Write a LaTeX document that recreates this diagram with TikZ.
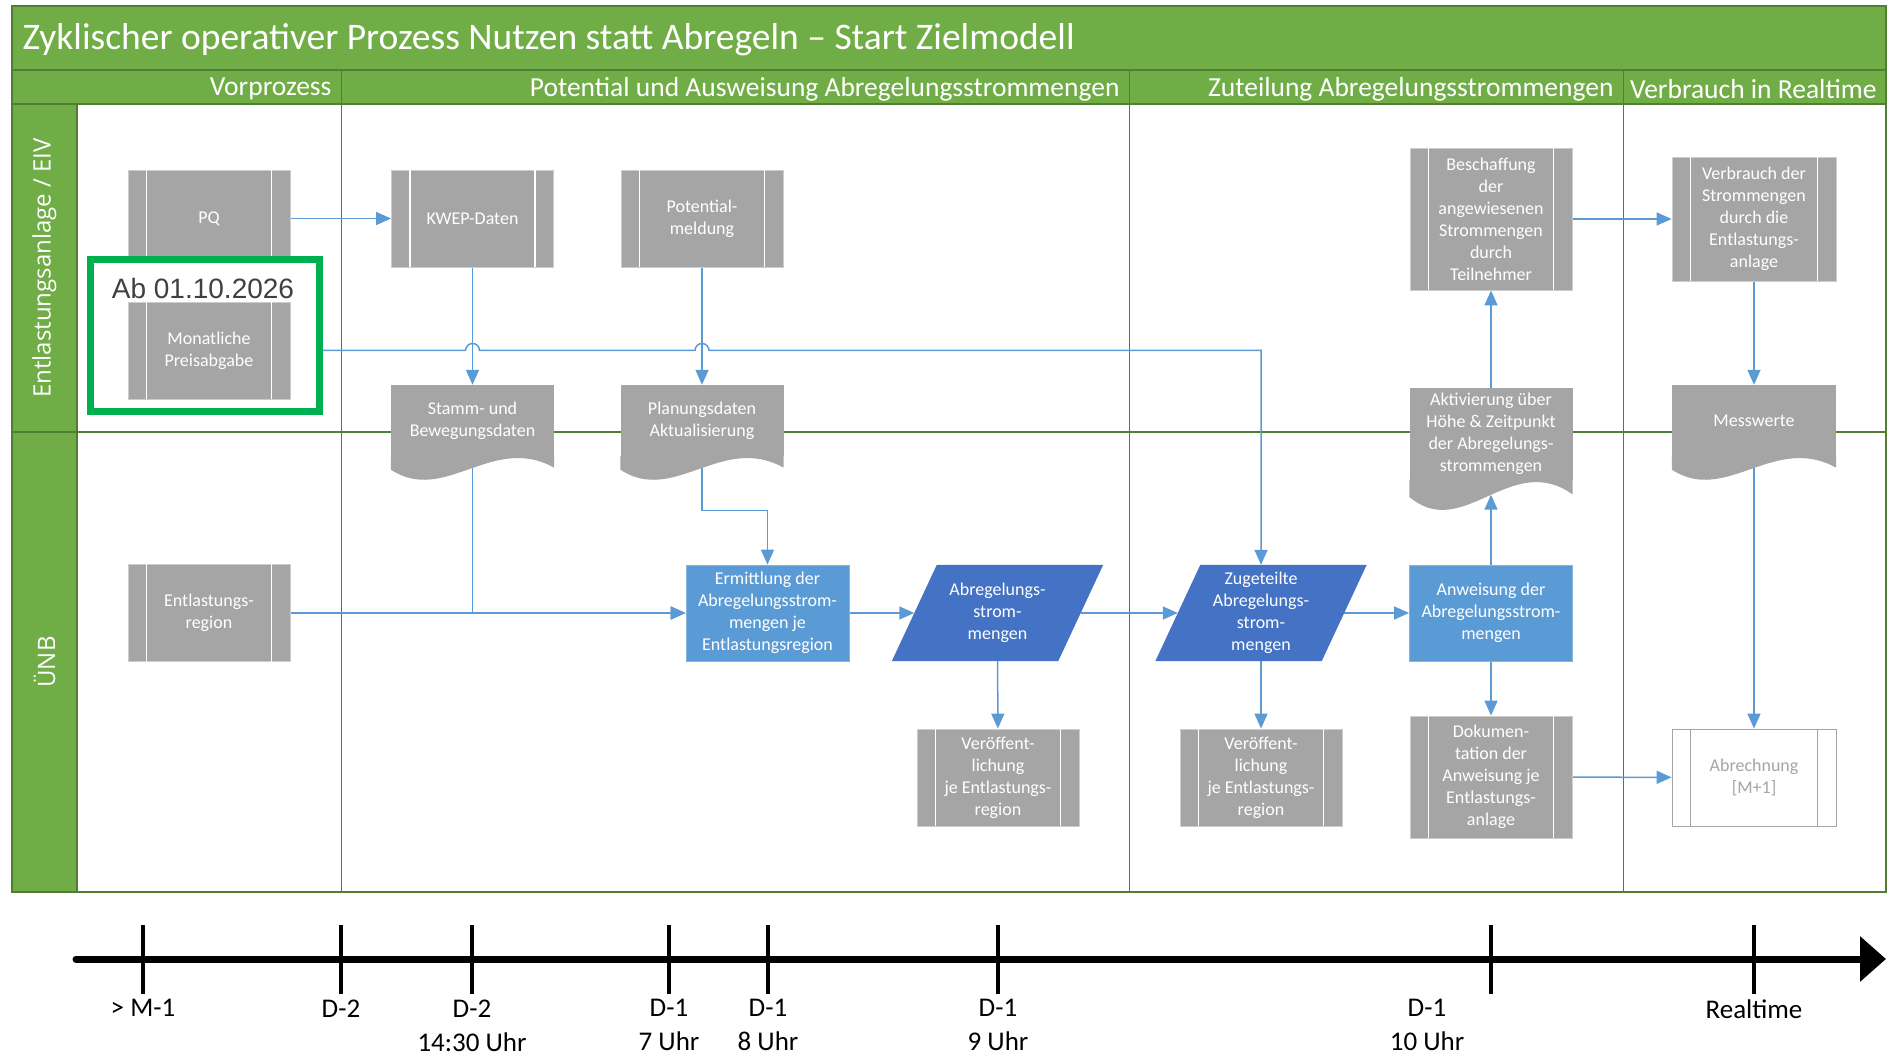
\documentclass[tikz,border=0pt]{standalone}
\usepackage{fontspec}
\setmainfont{Carlito}
\newfontfamily\datefont{Liberation Sans}
\newfontfamily\lanefont{Open Sans}
\usetikzlibrary{positioning,calc,arrows.meta}

\definecolor{bandgreen}{HTML}{70AD47}
\definecolor{edgegreen}{HTML}{507E32}
\definecolor{boxgray}{HTML}{A5A5A5}
\definecolor{procblue}{HTML}{5B9BD5}
\definecolor{datablue}{HTML}{4472C4}
\definecolor{markgreen}{HTML}{00B050}
\definecolor{dategray}{HTML}{404040}

\pgfdeclarelayer{lanes}
\pgfdeclarelayer{wires}
\pgfdeclarelayer{fills}
\pgfsetlayers{lanes,wires,fills,main}

% Dokument-Form: Welle unter dem Rechteck
\newcommand{\docwave}[3]{%
  \fill[boxgray] (#1.south west) -- ++(0,0.14*#3)
    .. controls +(0.33*#2,0.37*#3) and +(-0.38*#2,-0.36*#3) .. ($(#1.south east)+(0,0.12*#3)$)
    -- (#1.south east) -- cycle;}
% Daten-Form: Parallelogramm
\newcommand{\dataslant}[1]{%
  \fill[datablue] ($(#1.south west)+(-22.5,0)$) -- ($(#1.south east)+(-22.5,0)$)
    -- ($(#1.north east)+(22.5,0)$) -- ($(#1.north west)+(22.5,0)$) -- cycle;}

\tikzset{
  sublines/.style={append after command={
    \pgfextra{\let\subnode\tikzlastnode}
    ([xshift=19pt]\subnode.north west) edge[draw=#1, line width=1.6pt] ([xshift=19pt]\subnode.south west)
    ([xshift=-19pt]\subnode.north east) edge[draw=#1, line width=1.6pt] ([xshift=-19pt]\subnode.south east)}},
  subproc/.style={rectangle, fill=boxgray, draw=boxgray!55!white, line width=0.8pt, text=white,
    align=center, inner sep=0pt, minimum width=162pt, minimum height=97pt, sublines=white},
  procnode/.style={rectangle, fill=procblue, draw=procblue!75!white, line width=0.8pt, text=white,
    align=center, inner sep=0pt, minimum width=163pt, minimum height=96pt},
  datanode/.style={rectangle, text=white, align=center, inner sep=0pt,
    minimum width=166pt, minimum height=96pt},
  docnode/.style={rectangle, fill=boxgray, text=white, align=center, inner sep=0pt,
    minimum width=163pt},
  flow/.style={draw=procblue, line width=1.5pt, -{Triangle[length=15pt,width=13pt]}},
  lane/.style={draw=edgegreen, line width=1.3pt},
  tick/.style={line width=3.5pt},
  titletext/.style={text=white, anchor=west, font=\fontsize{37.5}{44}\selectfont},
  headtext/.style={text=white, anchor=east, font=\fontsize{27.5}{32}\selectfont},
  lanetext/.style={text=white, rotate=90, font=\lanefont\fontsize{24}{28}\selectfont},
  timetext/.style={anchor=north, align=center, font=\fontsize{27}{34}\selectfont}
}

\begin{document}
\begin{tikzpicture}[x=1pt, y=-1pt, font=\fontsize{18}{22}\selectfont]
\useasboundingbox (0,0) rectangle (1896,1056);

% Bahnen und Spalten
\begin{pgfonlayer}{lanes}
\fill[bandgreen] (12,6) rectangle (1886,104);
\fill[bandgreen] (12,104) rectangle (77,892);
\draw[lane] (12,70) -- (1886,70);
\draw[lane] (12,104) -- (1886,104);
\draw[lane] (77,104) -- (77,892);
\draw[lane] (12,432) -- (1886,432);
\foreach \x in {341,1129,1623} {
  \draw[lane, line width=1pt] (\x,70) -- (\x,892);
}
\draw[lane, line width=1.6pt] (12,6) rectangle (1886,892);
\end{pgfonlayer}

% Titel und Phasen
\node[titletext] (title) at (19,40) {Zyklischer operativer Prozess Nutzen statt Abregeln – Start Zielmodell};
\foreach \x/\txt [count=\i] in {335/Vorprozess, 1123/Potential und Ausweisung Abregelungsstrommengen,
    1617/Zuteilung Abregelungsstrommengen, 1880/Verbrauch in Realtime} {
  \node[headtext] (head\i) at (\x,89) {\txt};
}
\node[lanetext] (laneeiv) at (44.5,268) {Entlastungsanlage / EIV};
\node[lanetext] (laneuenb) at (44.5,662) {ÜNB};

% Entlastungsanlage / EIV
\node[subproc] (pq) at (209,218.5) {PQ};
\node[subproc] (kwep) at (472.5,218.5) {KWEP-Daten};
\node[subproc] (potm) at (702,218.5) {Potential-\\meldung};
\node[rectangle, draw=markgreen, fill=white, line width=7pt, minimum width=229pt, minimum height=152pt] (newbox) at (205,335.5) {};
\node[text=dategray, font=\datefont\fontsize{28}{32}\selectfont] (newdate) at (203,288) {Ab 01.10.2026};
\node[subproc] (preis) at (209,350.5) {Monatliche\\Preisabgabe};
\node[docnode, minimum height=71pt] (stamm) at (472.5,420.5) {Stamm- und\\Bewegungsdaten};
\node[docnode, minimum height=71pt] (plan) at (702,420.5) {Planungsdaten\\Aktualisierung};
\node[subproc, minimum height=142pt] (besch) at (1491,219) {Beschaffung\\der\\angewiesenen\\Strommengen\\durch\\Teilnehmer};
\node[subproc, minimum width=164pt, minimum height=124pt] (verbr) at (1754,219) {Verbrauch der\\Strommengen\\durch die\\Entlastungs-\\anlage};
\node[docnode, minimum height=91pt] (aktiv) at (1491,434) {Aktivierung über\\Höhe \& Zeitpunkt\\der Abregelungs-\\strommengen};
\node[docnode, minimum width=164pt, minimum height=71pt] (mess) at (1754,420.5) {Messwerte};

% ÜNB
\node[subproc] (region) at (209,613) {Entlastungs-\\region};
\node[procnode] (ermitt) at (767.5,613) {Ermittlung der\\Abregelungsstrom-\\mengen je\\Entlastungsregion};
\node[datanode] (abrg) at (997.5,613) {Abregelungs-\\strom-\\mengen};
\node[datanode] (zuget) at (1261,613) {Zugeteilte\\Abregelungs-\\strom-\\mengen};
\node[procnode] (anweis) at (1491,613) {Anweisung der\\Abregelungsstrom-\\mengen};
\node[subproc] (veroeff1) at (998,777.5) {Veröffent-\\lichung\\je Entlastungs-\\region};
\node[subproc] (veroeff2) at (1261,777.5) {Veröffent-\\lichung\\je Entlastungs-\\region};
\node[subproc, minimum height=122pt] (doku) at (1491,777) {Dokumen-\\tation der\\Anweisung je\\Entlastungs-\\anlage};
\node[subproc, fill=white, draw=boxgray, text=boxgray, minimum width=164pt, sublines=boxgray] (abrech) at (1754,777.5) {Abrechnung\\{[M+1]}};

% Wellen und Parallelogramme
\begin{pgfonlayer}{fills}
\docwave{stamm}{163}{96}
\docwave{plan}{163}{96}
\docwave{aktiv}{163}{123}
\docwave{mess}{164}{96}
\dataslant{abrg}
\dataslant{zuget}
\end{pgfonlayer}

% Verbindungen
\begin{pgfonlayer}{wires}
\draw[flow] (pq) -- (kwep);
\draw[flow] (kwep) -- (stamm);
\draw[flow] (potm) -- (plan);
\draw[flow] (preis.east) -- ($(kwep.south |- preis.east)+(-7,0)$) arc[start angle=180, end angle=360, radius=7]
  -- ($(potm.south |- preis.east)+(-7,0)$) arc[start angle=180, end angle=360, radius=7]
  -- (zuget.north |- preis.east) -- (zuget.north);
\draw[flow] (stamm.south) |- (ermitt.west);
\draw[flow] (region) -- (ermitt);
\draw[flow] (plan.south) |- ($(plan.south)!0.5!(ermitt.north)$) -| (ermitt.north);
\draw[flow] (ermitt) -- (abrg);
\draw[flow] (abrg) -- (zuget);
\draw[flow] (abrg) -- (veroeff1);
\draw[flow] (zuget) -- (veroeff2);
\draw[flow] (zuget) -- (anweis);
\draw[flow] (anweis.north) -- ($(aktiv.south)+(0,15)$);
\draw[flow] (aktiv.north) -- (besch.south);
\draw[flow] (anweis) -- (doku);
\draw[flow] (besch) -- (verbr);
\draw[flow] (verbr) -- (mess);
\draw[flow] (mess.south) -- (abrech.north);
\draw[flow] (doku) -- (abrech);
\end{pgfonlayer}

% Zeitstrahl
\coordinate (tstart) at (76,959);
\coordinate (tend) at (1886,959);
\draw[line width=7pt, line cap=round, -{Triangle[length=26pt,width=44pt]}] (tstart) -- (tend);
\foreach \tx/\lx/\la/\lb [count=\i] in {143/143/{> M-1}/{}, 341/341/D-2/{}, 472/472/D-2/{14:30 Uhr},
    669/669/D-1/{7 Uhr}, 768/768/D-1/{8 Uhr}, 998/998/D-1/{9 Uhr}, 1491/1427/D-1/{10 Uhr},
    1754/1754/Realtime/{}} {
  \draw[tick] (\tx,925) -- (\tx,994);
  \node[timetext] (time\i) at (\lx,996) {\la\\\lb};
}

\end{tikzpicture}
\end{document}
